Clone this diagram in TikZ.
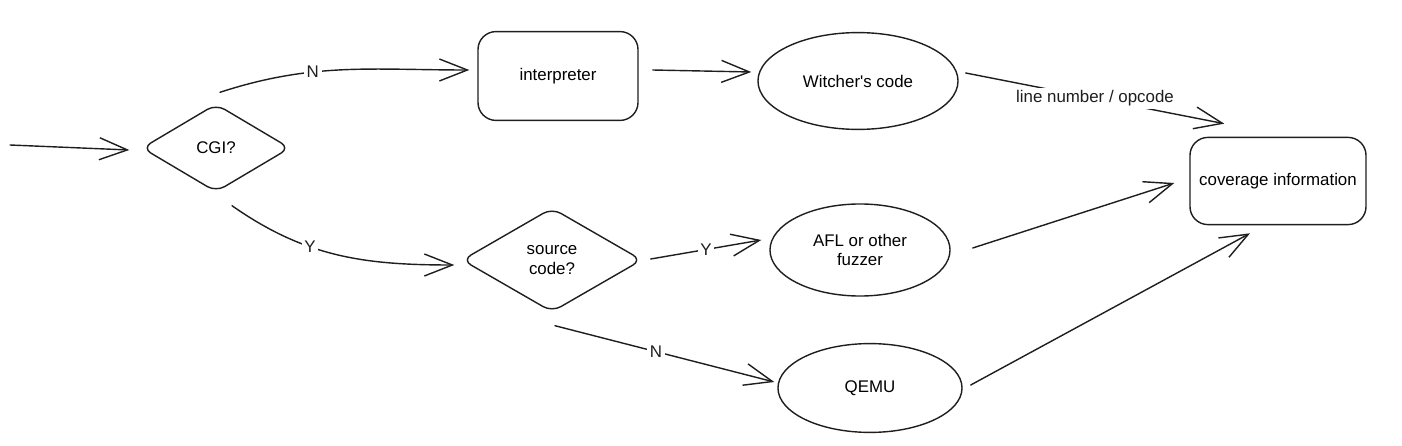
\documentclass[tikz,border=0pt]{standalone}
\usepackage{fontspec}
\setmainfont{Liberation Sans}
\usetikzlibrary{arrows.meta,shapes.geometric}
\definecolor{traco}{RGB}{30,30,30}

\begin{document}
\begin{tikzpicture}[x=0.025cm,y=-0.025cm,
        font=\fontsize{12}{14}\selectfont,
        caixa/.style={draw=traco,line width=1pt,rounded corners=4.5mm,align=center,inner sep=2pt},
        decisao/.style={draw=traco,line width=1pt,diamond,rounded corners=2.5mm,align=center,inner sep=0pt},
        elipse/.style={draw=traco,line width=1pt,ellipse,align=center,inner sep=0pt},
        seta/.style={-{Straight Barb[length=7mm,width=5.5mm]},line width=1pt,traco,line cap=round,line join=round},
        rotulo/.style={fill=white,inner sep=2pt,text=traco}]
      \useasboundingbox (0,0) rectangle (1402,446);
      \node[decisao,minimum width=3.7cm,minimum height=2.2cm] (cgi) at (216,148) {CGI?};
      \node[caixa,minimum width=4cm,minimum height=2.22cm] (interp) at (558,76) {interpreter};
      \node[elipse,minimum width=5cm,minimum height=2.42cm] (witcher) at (858,81) {Witcher\textquotesingle s code};
      \node[caixa,minimum width=4.4cm,minimum height=2.18cm] (cov) at (1278,181) {coverage information};
      \node[decisao,minimum width=4.5cm,minimum height=2.6cm] (src) at (552,260) {source\\code?};
      \node[elipse,minimum width=4.5cm,minimum height=2.3cm] (afl) at (860,250) {AFL or other\\fuzzer};
      \node[elipse,minimum width=4.6cm,minimum height=2.22cm] (qemu) at (870,388) {QEMU};
      \coordinate (inicio) at (10,145);
      \draw[seta] (inicio) -- ([shift={(-12,2)}]cgi.west);
      \draw[seta] ([shift={(4,-11)}]cgi.north) to[out=18,in=180] node[rotulo,pos=0.37]{N} ([shift={(-8,-6)}]interp.west);
      \draw[seta] ([shift={(16,13)}]cgi.south) to[out=-35,in=180] node[rotulo,pos=0.37]{Y} ([shift={(-7,5)}]src.west);
      \draw[seta] ([shift={(14,-6)}]interp.east) -- ([shift={(-6,-9)}]witcher.west);
      \draw[seta] ([shift={(7,-8)}]witcher.east) -- node[rotulo]{line number / opcode} ([shift={(35,-13)}]cov.north west);
      \draw[seta] ([shift={(8,-1)}]src.east) -- node[rotulo]{Y} ([shift={(-8,-10)}]afl.west);
      \draw[seta] ([shift={(3,13)}]src.south) -- node[rotulo,pos=0.46]{N} ([shift={(-3,-6)}]qemu.west);
      \draw[seta] ([shift={(22,-2)}]afl.east) -- ([shift={(-15,2)}]cov.west);
      \draw[seta] ([shift={(8,-3)}]qemu.east) -- ([shift={(-28,8)}]cov.south);
    \end{tikzpicture}
\end{document}
